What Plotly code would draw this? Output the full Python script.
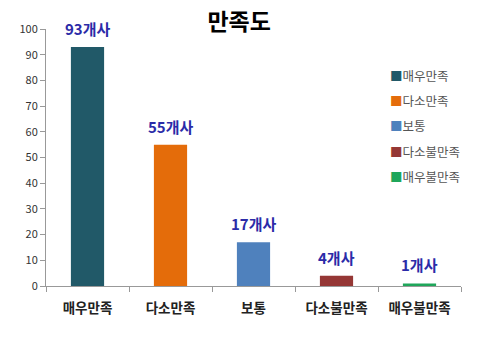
import plotly.graph_objects as go

categories = ["매우만족", "다소만족", "보통", "다소불만족", "매우불만족"]
counts = [93, 55, 17, 4, 1]
colors = ["#215968", "#E46C0A", "#4F81BD", "#953735", "#1FA65A"]
y_ticks = list(range(0, 101, 10))

KR = "Noto Sans CJK KR"

fig = go.Figure()
for cat, val, col in zip(categories, counts, colors):
    fig.add_trace(go.Bar(
        x=[cat], y=[val], name=cat,
        marker=dict(color=col, line=dict(width=0)),
        width=0.4, showlegend=False,
    ))
    # value label above each bar
    fig.add_annotation(
        x=cat, y=val, text=f"<b>{val}개사</b>", showarrow=False,
        yanchor="bottom", yshift=6,
        font=dict(family=KR, size=15, color="#2B2BA8"),
    )

# legend: colour squares with category names
for i, (cat, col) in enumerate(zip(categories, colors)):
    fig.add_annotation(
        xref="paper", yref="paper", x=0.825, y=0.821 - i * 0.0992,
        xanchor="left", yanchor="middle", showarrow=False,
        text=f"<span style='color:{col}'>■</span>{cat}",
        font=dict(family=KR, size=12.5, color="#555555"),
    )

fig.update_layout(
    width=488, height=337,
    margin=dict(l=46, r=27, t=29, b=51),
    paper_bgcolor="white", plot_bgcolor="white",
    barmode="overlay",
    title=dict(text="<b>만족도</b>", x=0.49, xanchor="center", y=0.935, yanchor="middle",
               font=dict(family=KR, size=23, color="black")),
    font=dict(family=KR, color="#333333"),
    showlegend=False,
)
fig.update_xaxes(
    categoryorder="array", categoryarray=categories,
    showline=True, linecolor="#999999", linewidth=1,
    ticks="outside", tickson="boundaries", ticklen=5, tickcolor="#999999",
    tickfont=dict(size=13.5, color="#222222", weight="bold"),
    ticklabelstandoff=10,
    showgrid=False,
)
fig.update_yaxes(
    range=[0, 100], tickvals=y_ticks,
    showline=True, linecolor="#999999", linewidth=1,
    ticks="outside", ticklen=5, tickcolor="#999999",
    tickfont=dict(size=11, color="#333333"),
    showgrid=False, zeroline=False,
)

fig.write_html("out.html")
